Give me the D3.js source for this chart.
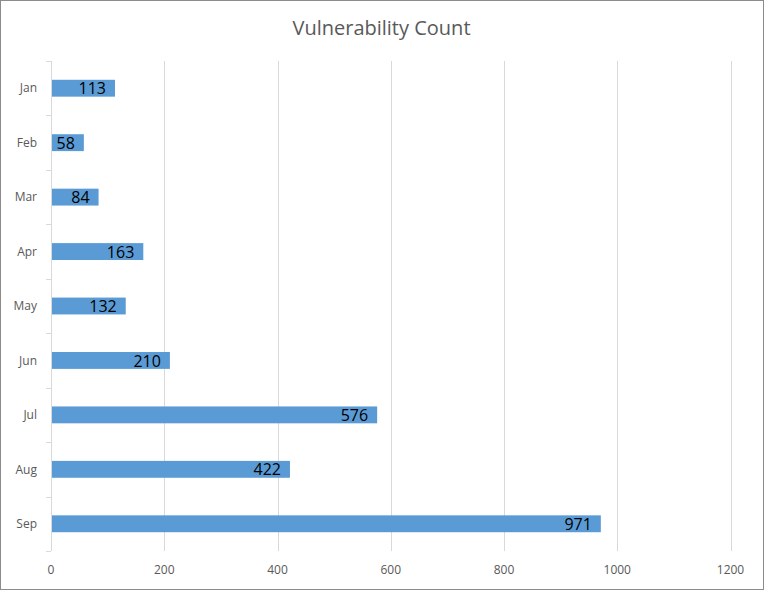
<!DOCTYPE html>
<html>
<head>
<meta charset="utf-8">
<script src="https://cdn.jsdelivr.net/npm/d3@7"></script>
<style>
  body { margin: 0; background: #fff; }
  svg { display: block; font-family: "Open Sans", "Noto Sans", sans-serif; }
</style>
</head>
<body>
<svg id="chart"></svg>
<script>
// data
const months = ["Jan", "Feb", "Mar", "Apr", "May", "Jun", "Jul", "Aug", "Sep"];
const counts = [113, 58, 84, 163, 132, 210, 576, 422, 971];
const xTicks = [0, 200, 400, 600, 800, 1000, 1200];

const width = 764;
const height = 590;
const margin = { top: 61, right: 33.5, bottom: 39, left: 51 };

const svg = d3.select("#chart").attr("width", width).attr("height", height);

// outer frame
svg.append("rect")
  .attr("x", 0.5).attr("y", 0.5)
  .attr("width", width - 1).attr("height", height - 1)
  .attr("fill", "#fff").attr("stroke", "#8c8c8c");

svg.append("text")
  .attr("x", width / 2 - 0.5)
  .attr("y", 35)
  .attr("text-anchor", "middle")
  .attr("fill", "#595959")
  .style("font-size", "20px")
  .text("Vulnerability Count");

const x = d3.scaleLinear().domain([0, 1200]).range([margin.left, width - margin.right]);
const y = d3.scaleBand()
  .domain(months)
  .range([margin.top, height - margin.bottom])
  .paddingInner(0.69)
  .paddingOuter(0.345);

// vertical gridlines
svg.append("g")
  .selectAll("line")
  .data(xTicks.slice(1))
  .join("line")
  .attr("x1", (d) => Math.round(x(d)) + 0.5)
  .attr("x2", (d) => Math.round(x(d)) + 0.5)
  .attr("y1", margin.top)
  .attr("y2", height - margin.bottom)
  .attr("stroke", "#d9d9d9");

// x tick labels
svg.append("g")
  .selectAll("text")
  .data(xTicks)
  .join("text")
  .attr("x", (d) => x(d))
  .attr("y", 574)
  .attr("text-anchor", "middle")
  .attr("fill", "#595959")
  .style("font-size", "12px")
  .text((d) => d);

// y axis line + category boundary ticks
const step = y.step();
const yAxis = svg.append("g");
yAxis.append("line")
  .attr("x1", margin.left + 0.5).attr("x2", margin.left + 0.5)
  .attr("y1", margin.top).attr("y2", height - margin.bottom)
  .attr("stroke", "#d9d9d9");
yAxis.selectAll(".tk")
  .data(d3.range(months.length + 1))
  .join("line")
  .attr("class", "tk")
  .attr("x1", margin.left - 5).attr("x2", margin.left)
  .attr("y1", (i) => Math.round(margin.top + i * step) + 0.5)
  .attr("y2", (i) => Math.round(margin.top + i * step) + 0.5)
  .attr("stroke", "#d9d9d9");
yAxis.selectAll("text")
  .data(months)
  .join("text")
  .attr("x", 37)
  .attr("y", (d) => y(d) + y.bandwidth() / 2)
  .attr("dy", "0.35em")
  .attr("text-anchor", "end")
  .attr("fill", "#595959")
  .style("font-size", "12px")
  .text((d) => d);

// bars
const rows = months.map((m, i) => ({ month: m, value: counts[i] }));
svg.append("g")
  .selectAll("rect")
  .data(rows)
  .join("rect")
  .attr("x", x(0) + 1)
  .attr("y", (d) => y(d.month))
  .attr("width", (d) => x(d.value) - x(0) - 1)
  .attr("height", y.bandwidth())
  .attr("fill", "#5b9bd5");

// value labels inside end
svg.append("g")
  .selectAll("text")
  .data(rows)
  .join("text")
  .attr("x", (d) => x(d.value) - 9)
  .attr("y", (d) => y(d.month) + y.bandwidth() / 2)
  .attr("dy", "0.38em")
  .attr("text-anchor", "end")
  .attr("fill", "#000")
  .style("font-size", "16px")
  .text((d) => d.value);
</script>
</body>
</html>
